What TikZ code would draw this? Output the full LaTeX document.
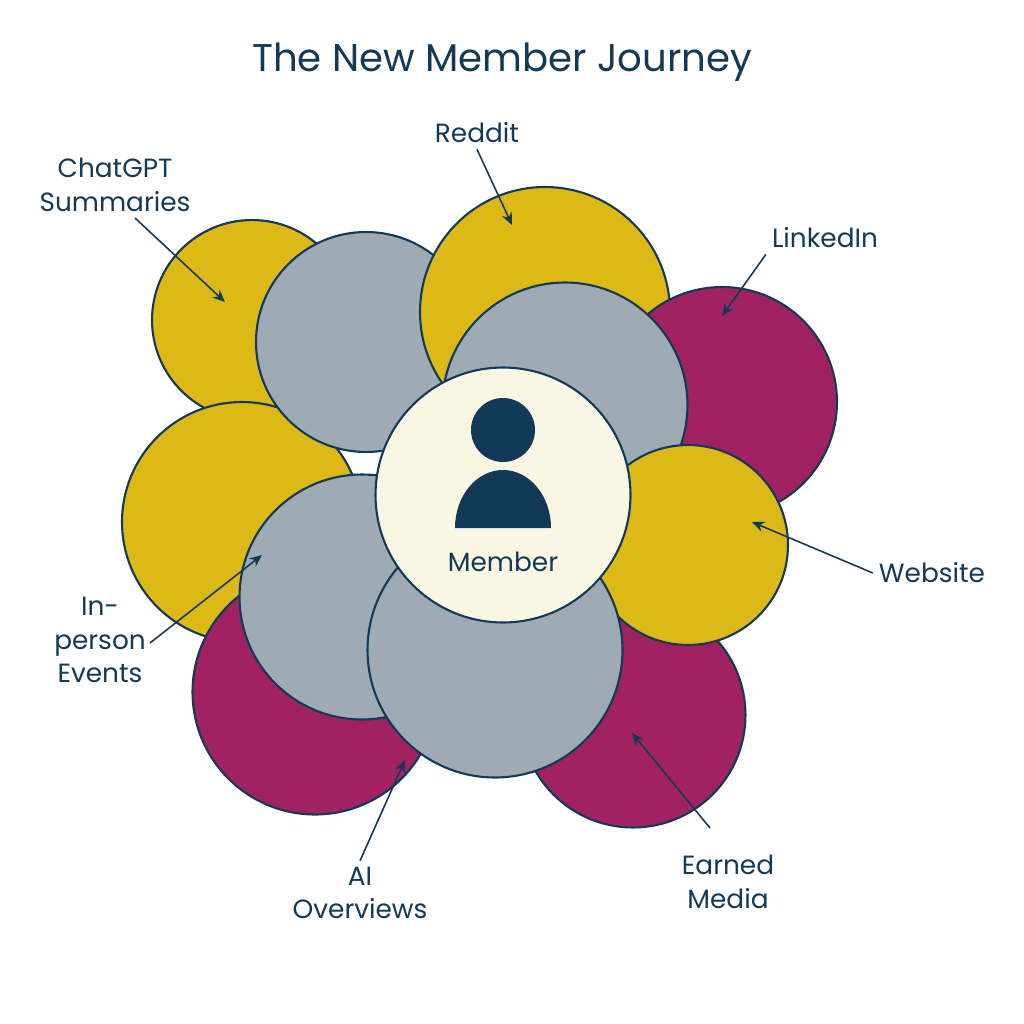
\documentclass[tikz,border=0pt]{standalone}
\usepackage{fontspec}
\setmainfont{Poppins}
\usetikzlibrary{arrows.meta}
\definecolor{navy}{HTML}{123A57}
\definecolor{yel}{HTML}{DDB918}
\definecolor{gry}{HTML}{9EABB5}
\definecolor{mag}{HTML}{A02262}
\definecolor{crm}{HTML}{F9F6E3}
\tikzset{
  bub/.style={circle, draw=navy, line width=1.2pt, inner sep=0pt},
  lbl/.style={text=navy, font=\fontsize{15}{19}\selectfont, align=center},
  pointer/.style={draw=navy, line width=0.9pt, -{Stealth[length=7pt,width=6pt]}}
}
\begin{document}
\begin{tikzpicture}[x=0.02cm, y=-0.02cm]
		\useasboundingbox[fill=white] (0,0) rectangle (1024,1024);
		
		% Circles
		\node[bub, fill=yel, minimum size=4.0cm] (ytl) at (252,320) {};
		\node[bub, fill=yel, minimum size=4.8cm] (yl) at (242,522) {};
		\node[bub, fill=mag, minimum size=4.9cm] (mbl) at (315,692) {};
		\node[bub, fill=gry, minimum size=4.4cm] (gtl) at (366,342) {};
		\node[bub, fill=yel, minimum size=5.0cm] (yt) at (545,312) {};
		\node[bub, fill=mag, minimum size=4.6cm] (mr) at (722,402) {};
		\node[bub, fill=gry, minimum size=4.9cm] (gtc) at (565,405) {};
		\node[bub, fill=mag, minimum size=4.5cm] (mbr) at (633,715) {};
		\node[bub, fill=yel, minimum size=4.0cm] (yr) at (688,545) {};
		\node[bub, fill=gry, minimum size=4.9cm] (gbl) at (362,597) {};
		\node[bub, fill=gry, minimum size=5.1cm] (gbc) at (495,650) {};
		\node[bub, fill=crm, minimum size=5.1cm] (mem) at (503,495) {};
		
		% Member icon
		\fill[navy] (503,430) circle[radius=32];
		\fill[navy] (455,528) arc[start angle=180, end angle=0, x radius=48, y radius=-58] -- cycle;
		\node[lbl] (memtxt) at (503,562) {Member};
		
		% Title
		\node[text=navy, font=\fontsize{22}{26}\selectfont] (title) at (502,62) {The New Member Journey};
		
		% Labels
		\node[lbl] (chat) at (115,185) {ChatGPT\\Summaries};
		\node[lbl] (red) at (477,133) {Reddit};
		\node[lbl] (lin) at (825,238) {LinkedIn};
		\node[lbl] (web) at (932,573) {Website};
		\node[lbl] (earn) at (728,882) {Earned\\Media};
		\node[lbl] (ai) at (360,893) {AI\\Overviews};
		\node[lbl] (inp) at (100,640) {In-\\person\\Events};
		
		\coordinate (pchat) at (225,302);
		\coordinate (pred) at (512,225);
		\coordinate (plin) at (722,316);
		\coordinate (pweb) at (752,522);
		\coordinate (pearn) at (632,733);
		\coordinate (pai) at (405,760);
		\coordinate (pinp) at (262,555);
		
		% Arrows
		\draw[pointer] (135,218) -- (pchat);
		\draw[pointer] (red.south) -- (pred);
		\draw[pointer] (lin.south west) -- (plin);
		\draw[pointer] (web.west) -- (pweb);
		\draw[pointer] (710,828) -- (pearn);
		\draw[pointer] (ai.north) -- (pai);
		\draw[pointer] (150,643) -- (pinp);
		
		\end{tikzpicture}
\end{document}
